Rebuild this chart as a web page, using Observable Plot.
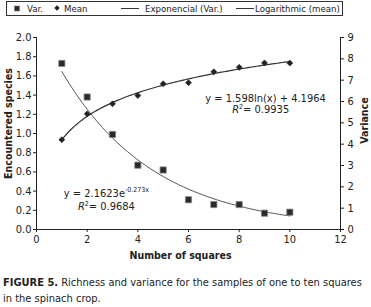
<!DOCTYPE html>
<html><head><meta charset="utf-8">
<script src="https://cdn.jsdelivr.net/npm/d3@7"></script>
<script src="https://cdn.jsdelivr.net/npm/@observablehq/plot@0.6"></script>
<style>
body{margin:0;background:#fff;color:#222;}
#wrap{position:relative;width:371px;height:307px;overflow:hidden;}
#legend{position:absolute;left:6px;top:1px;width:335px;height:13px;border:1px solid #333;}
#legend .it{position:absolute;top:0;line-height:13px;white-space:nowrap;}
#chart{position:absolute;left:0;top:17px;}
#caption{position:absolute;left:3px;top:275px;width:368px;line-height:16px;color:#222;}
</style></head>
<body>
<div id="wrap">
  <div id="legend"></div>
  <div id="chart"></div>
  <div id="caption"><b>FIGURE 5.</b> Richness and variance for the samples of one to ten squares in the spinach crop.</div>
</div>
<script>
// ---- data ----
const squares = [1, 2, 3, 4, 5, 6, 7, 8, 9, 10];
const varValues = [1.73, 1.38, 0.99, 0.67, 0.62, 0.31, 0.26, 0.26, 0.17, 0.18];   // left axis
const meanValues = [4.21, 5.42, 5.89, 6.28, 6.83, 6.88, 7.39, 7.60, 7.81, 7.80]; // right axis
const xTicks = [0, 2, 4, 6, 8, 10, 12];
const leftTicks = [0, 0.2, 0.4, 0.6, 0.8, 1.0, 1.2, 1.4, 1.6, 1.8, 2.0];
const rightTicks = [0, 1, 2, 3, 4, 5, 6, 7, 8, 9];
const expCoef = {a: 2.1623, b: -0.273};   // Exponencial (Var.)
const logCoef = {a: 1.598, b: 4.1964};    // Logarithmic (mean)
const legendLabels = ["Var.", "Mean", "Exponencial (Var.)", "Logarithmic (mean)"];
const expEq = "y = 2.1623e-0.273x", expR2 = "R2= 0.9684";
const logEq = "y = 1.598ln(x) + 4.1964", logR2 = "R2= 0.9935";
const axisTitles = {x: "Number of squares", left: "Encountered species", right: "Variance"};

// ---- pick a condensed font that is actually installed ----
function measure(family, stretch) {
  const s = document.createElement("span");
  s.style.cssText = `position:absolute;visibility:hidden;white-space:nowrap;font-size:40px;font-family:${family};font-stretch:${stretch}`;
  s.textContent = "Encountered species 0123456789 Richness";
  document.body.appendChild(s);
  const w = s.getBoundingClientRect().width;
  s.remove();
  return w;
}
let font = '"Liberation Sans", Arial, sans-serif', stretch = "normal", scaleF = 0.92;
const mono = measure("monospace", "normal");
if (Math.abs(measure('"Liberation Sans Narrow", monospace', "normal") - mono) > 1) {
  font = '"Liberation Sans Narrow", sans-serif'; scaleF = 1;
} else if (Math.abs(measure('"DejaVu Sans Condensed", monospace', "normal") - mono) > 1) {
  font = '"DejaVu Sans Condensed", sans-serif'; scaleF = 0.88;
} else if (measure('"DejaVu Sans"', "condensed") < measure('"DejaVu Sans"', "normal") - 2) {
  font = '"DejaVu Sans", sans-serif'; stretch = "condensed"; scaleF = 0.88;
}
const fs = v => +(v * scaleF).toFixed(2);
document.body.style.fontFamily = font;
document.body.style.fontStretch = stretch;
document.getElementById("legend").style.fontSize = fs(10.9) + "px";
document.getElementById("caption").style.fontSize = fs(12.5) + "px";

const ratio = 9 / 2; // right-axis units per left-axis unit

const varData = squares.map((x, i) => ({x, y: varValues[i]}));
const meanData = squares.map((x, i) => ({x, y: meanValues[i] / ratio}));
const xs = d3.range(1, 10.001, 0.1);
const expCurve = xs.map(x => ({x, y: expCoef.a * Math.exp(expCoef.b * x)}));
const logCurve = xs.map(x => ({x, y: (logCoef.a * Math.log(x) + logCoef.b) / ratio}));

const annotations = [
  {x: 9.04, y: 1.367, t: logEq},
  {x: 8.85, y: 1.25, t: logR2},
  {x: 2.76, y: 0.38, t: expEq},
  {x: 2.76, y: 0.245, t: expR2}
];

const plot = Plot.plot({
  width: 371, height: 246,
  marginTop: 20, marginBottom: 34, marginLeft: 36, marginRight: 31,
  style: {fontFamily: font, fontStretch: stretch, fontSize: fs(12.5) + "px", color: "#222", background: "transparent", overflow: "visible"},
  x: {domain: [0, 12]},
  y: {domain: [0, 2]},
  marks: [
    Plot.axisX({ticks: xTicks, tickSize: 3, tickPadding: 3, label: null}),
    Plot.axisY({ticks: leftTicks, tickFormat: d3.format(".1f"), tickSize: 3, tickPadding: 2, label: null}),
    Plot.axisY(rightTicks.map(v => v / ratio), {anchor: "right", tickFormat: d => String(Math.round(d * ratio)), tickSize: 3, tickPadding: 4, label: null}),
    Plot.ruleX([0], {stroke: "#222"}),
    Plot.ruleX([12], {stroke: "#222"}),
    Plot.ruleY([0], {stroke: "#222"}),
    Plot.line(expCurve, {x: "x", y: "y", stroke: "#555", strokeWidth: 1}),
    Plot.line(logCurve, {x: "x", y: "y", stroke: "#333", strokeWidth: 1.2}),
    Plot.dot(varData, {x: "x", y: "y", symbol: "square", r: 3.5, fill: "#2a2a2a", stroke: "#888", strokeWidth: 0.8}),
    Plot.dot(meanData, {x: "x", y: "y", symbol: "diamond2", r: 2.7, fill: "#222", stroke: "#222", strokeWidth: 0.6}),
    Plot.text(annotations, {x: "x", y: "y", text: "t", fontSize: fs(12.5), fill: "#222"}),
    Plot.text([axisTitles.left], {frameAnchor: "left", textAnchor: "middle", rotate: -90, dx: -28, dy: -10, fontWeight: "bold", fontSize: fs(12)}),
    Plot.text([axisTitles.right], {frameAnchor: "right", textAnchor: "middle", rotate: -90, dx: 24, dy: -13, fontWeight: "bold", fontSize: fs(12)}),
    Plot.text([axisTitles.x], {frameAnchor: "bottom", dx: -8, dy: 29, fontWeight: "bold", fontSize: fs(12)})
  ]
});

// superscripts / italics in the fit annotations
d3.select(plot).selectAll("text").each(function() {
  const t = this.textContent;
  const s = d3.select(this);
  if (t === expEq) {
    s.text(null);
    s.append("tspan").text("y = 2.1623e");
    s.append("tspan").attr("dy", -5).attr("font-size", 7).text("-0.273x");
  } else if (t === expR2 || t === logR2) {
    s.text(null);
    s.append("tspan").attr("font-style", "italic").text("R");
    s.append("tspan").attr("dy", -4).attr("font-size", 7).text("2");
    s.append("tspan").attr("dy", 4).text(t.slice(2));
  }
});
document.getElementById("chart").appendChild(plot);

// legend
const legend = document.getElementById("legend");
const lx = [7, 47, 114, 229];
const tx = [20, 57, 138, 248];
legendLabels.forEach((lab, i) => {
  const sw = document.createElementNS("http://www.w3.org/2000/svg", "svg");
  sw.setAttribute("class", "it");
  sw.style.left = lx[i] + "px";
  sw.style.top = "0px";
  sw.setAttribute("width", i < 2 ? 8 : 19);
  sw.setAttribute("height", 13);
  if (i === 0) sw.innerHTML = '<rect x="0.5" y="4" width="5" height="5" fill="#2a2a2a" stroke="#777" stroke-width="0.6"/>';
  else if (i === 1) sw.innerHTML = '<path d="M3,3.3 L5.7,6 L3,8.7 L0.3,6Z" fill="#222"/>';
  else sw.innerHTML = '<line x1="0" x2="18" y1="6.5" y2="6.5" stroke="#333" stroke-width="1"/>';
  legend.appendChild(sw);
  const sp = document.createElement("span");
  sp.className = "it";
  sp.style.left = tx[i] + "px";
  sp.textContent = lab;
  legend.appendChild(sp);
});
</script>
</body></html>
